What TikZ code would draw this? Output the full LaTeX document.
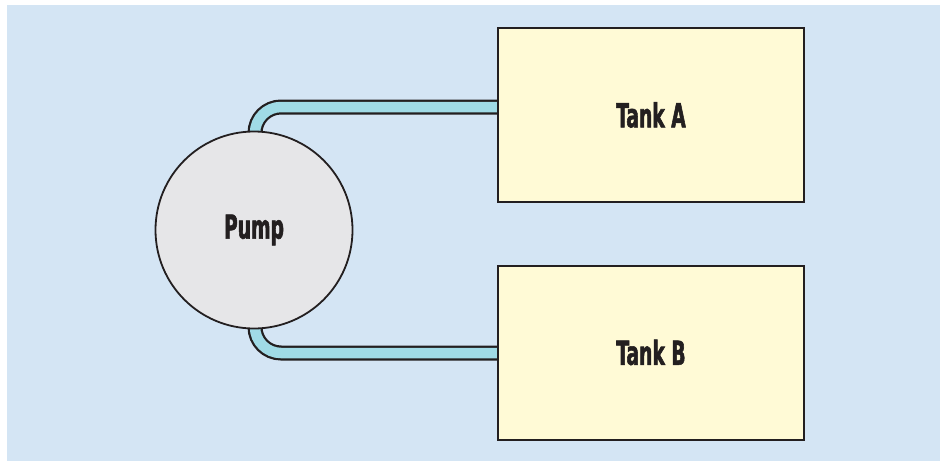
\documentclass[tikz,border=0pt]{standalone}
\usepackage{fontspec}
\newfontfamily\labelfont[FakeStretch=0.63,FakeBold=1.6]{DejaVu Sans Condensed Bold}
\definecolor{bgblue}{HTML}{D4E5F4}
\definecolor{tankfill}{HTML}{FFFAD6}
\definecolor{pumpfill}{HTML}{E6E6E8}
\definecolor{pipefill}{HTML}{A0DBE6}
\definecolor{ink}{HTML}{231F20}
\tikzset{
  tankbox/.style={draw=ink, line width=2pt, fill=tankfill, minimum width=306pt, minimum height=174pt, inner sep=0pt, font=\labelfont\fontsize{33}{33}\selectfont, text=ink},
  pumpnode/.style={circle, draw=ink, line width=1.8pt, fill=pumpfill, minimum size=197pt, inner sep=0pt, font=\labelfont\fontsize{33}{33}\selectfont, text=ink},
  pipeout/.style={draw=ink, line width=15pt, rounded corners=26pt},
  pipein/.style={draw=pipefill, line width=10.5pt, rounded corners=26pt},
}
\begin{document}
\begin{tikzpicture}[x=1pt,y=-1pt]
\useasboundingbox (0,0) rectangle (940,461);
\fill[bgblue] (7,5) rectangle (940,461);
\coordinate (pc) at (254,230);
\coordinate (ta) at (651,115);
\coordinate (tb) at (651,352.5);
\coordinate (pa1) at (255,230);
\coordinate (pa2) at (255,107);
\coordinate (pa3) at (510,107);
\coordinate (pb2) at (255,353);
\coordinate (pb3) at (510,353);
\draw[pipeout] (pa1) -- (pa2) -- (pa3);
\draw[pipein] (pa1) -- (pa2) -- (pa3);
\draw[pipeout] (pa1) -- (pb2) -- (pb3);
\draw[pipein] (pa1) -- (pb2) -- (pb3);
\node[pumpnode] (pump) at (pc) {Pump};
\node[tankbox] (tankA) at (ta) {Tank A};
\node[tankbox] (tankB) at (tb) {Tank B};
\end{tikzpicture}
\end{document}
